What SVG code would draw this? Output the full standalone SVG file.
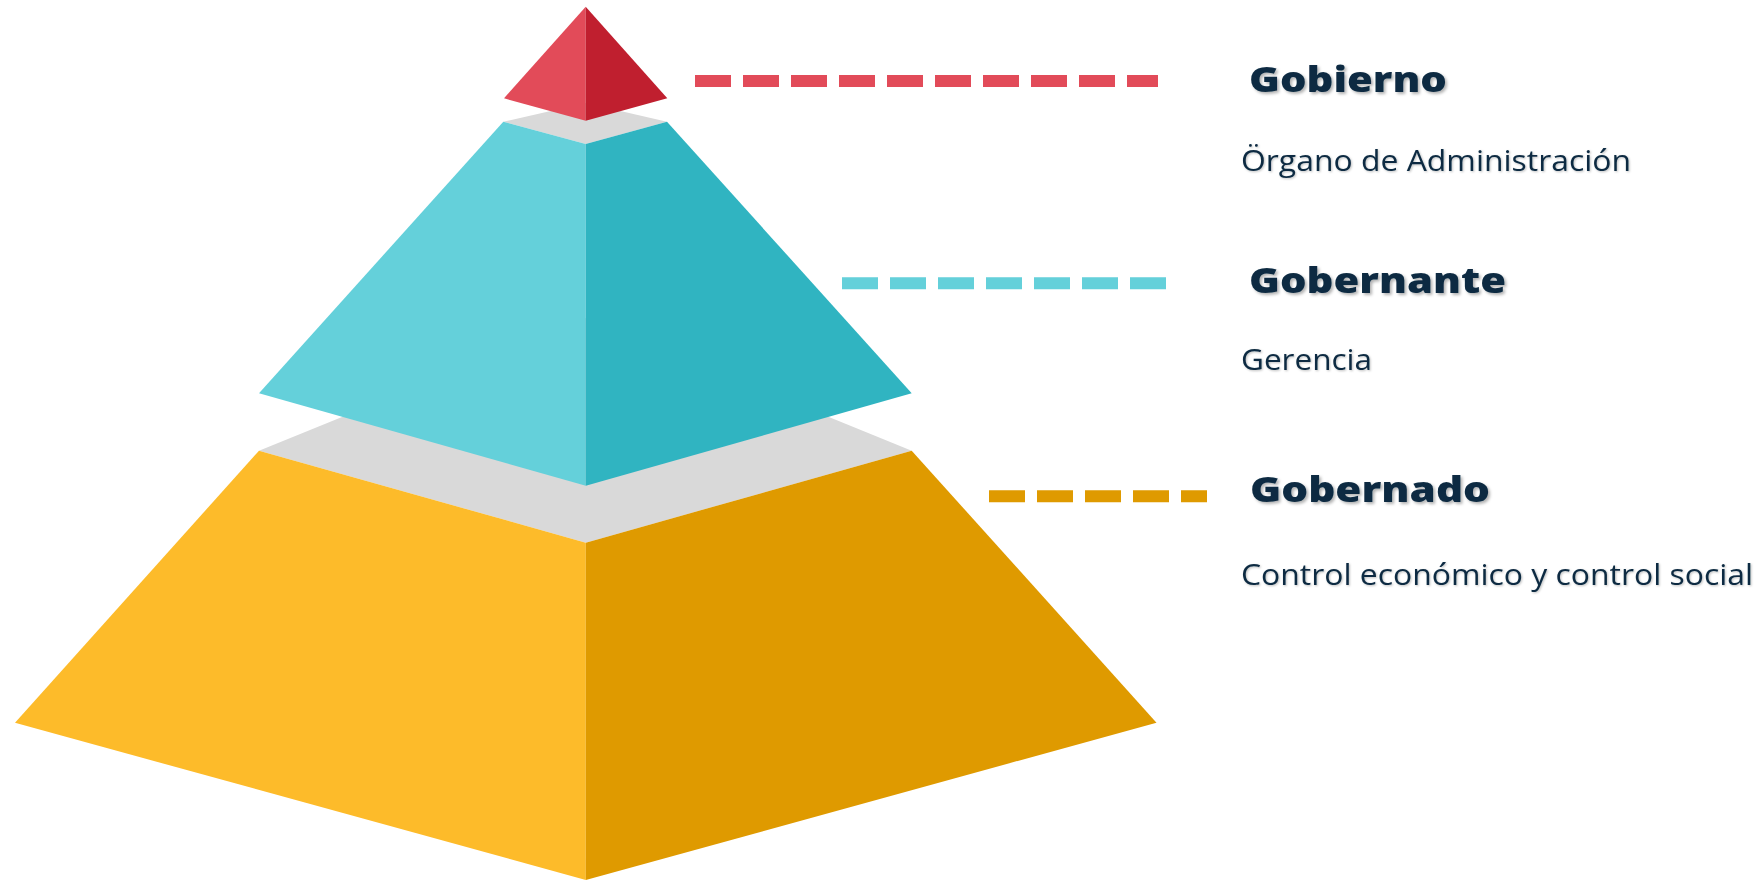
<svg xmlns="http://www.w3.org/2000/svg" width="1763" height="880" viewBox="0 0 1763 880">
<defs>
<filter id="sh" x="-10%" y="-30%" width="120%" height="160%">
<feDropShadow dx="2" dy="2" stdDeviation="1.5" flood-color="#000" flood-opacity="0.3"/>
</filter>
<filter id="sh2" x="-10%" y="-30%" width="120%" height="160%">
<feDropShadow dx="1" dy="1" stdDeviation="1" flood-color="#000" flood-opacity="0.25"/>
</filter>
</defs>
<style>
.title{font-family:"Open Sans",sans-serif;font-weight:800;font-size:35px;fill:#0C2B42;filter:url(#sh)}
.sub{font-family:"Open Sans",sans-serif;font-size:29px;fill:#0C2B42;filter:url(#sh2)}
.dash{stroke-width:12;stroke-dasharray:36 12;fill:none}
.gray{fill:#D9D9D9}
</style>
<rect width="1763" height="880" fill="#fff"/>
<g id="level-gobernado">
<polygon class="gray" points="259,450.7 585.8,318 911.7,450.7 585.8,542.7"/>
<polygon fill="#FDBB2A" points="259,450.7 585.8,542.7 585.8,880 15,722.7"/>
<polygon fill="#DF9A00" points="585.8,542.7 911.7,450.7 1156.5,722.7 585.8,880"/>
</g>
<g id="level-gobernante">
<polygon class="gray" points="503.3,121.7 585.7,103 667,121.7 585.7,144"/>
<polygon fill="#64D0DA" points="503.3,121.7 585.7,144 585.8,485.7 259,393.3"/>
<polygon fill="#30B4C1" points="585.7,144 667,121.7 911.7,393.3 585.8,485.7"/>
</g>
<g id="level-gobierno">
<polygon fill="#E24B59" points="585.7,6.7 504,98.3 585.7,120.7"/>
<polygon fill="#C01F2F" points="585.7,6.7 667.3,98.3 585.7,120.7"/>
</g>
<g id="connectors">
<line class="dash" stroke="#E24B59" x1="695" y1="81" x2="1158" y2="81"/>
<line class="dash" stroke="#64D0DA" x1="842" y1="283.3" x2="1166" y2="283.3"/>
<line class="dash" stroke="#DF9A00" x1="989" y1="496.3" x2="1207" y2="496.3"/>
</g>
<g id="label-gobierno">
<text class="title" x="1249" y="91.7" textLength="198" lengthAdjust="spacingAndGlyphs">Gobierno</text>
<text class="sub" x="1241" y="171" textLength="390" lengthAdjust="spacingAndGlyphs">Örgano de Administración</text>
</g>
<g id="label-gobernante">
<text class="title" x="1249" y="293.3" textLength="257" lengthAdjust="spacingAndGlyphs">Gobernante</text>
<text class="sub" x="1241" y="370" textLength="131" lengthAdjust="spacingAndGlyphs">Gerencia</text>
</g>
<g id="label-gobernado">
<text class="title" x="1250" y="502.3" textLength="240" lengthAdjust="spacingAndGlyphs">Gobernado</text>
<text class="sub" x="1241" y="585.4" textLength="512" lengthAdjust="spacingAndGlyphs">Control económico y control social</text>
</g>
</svg>
